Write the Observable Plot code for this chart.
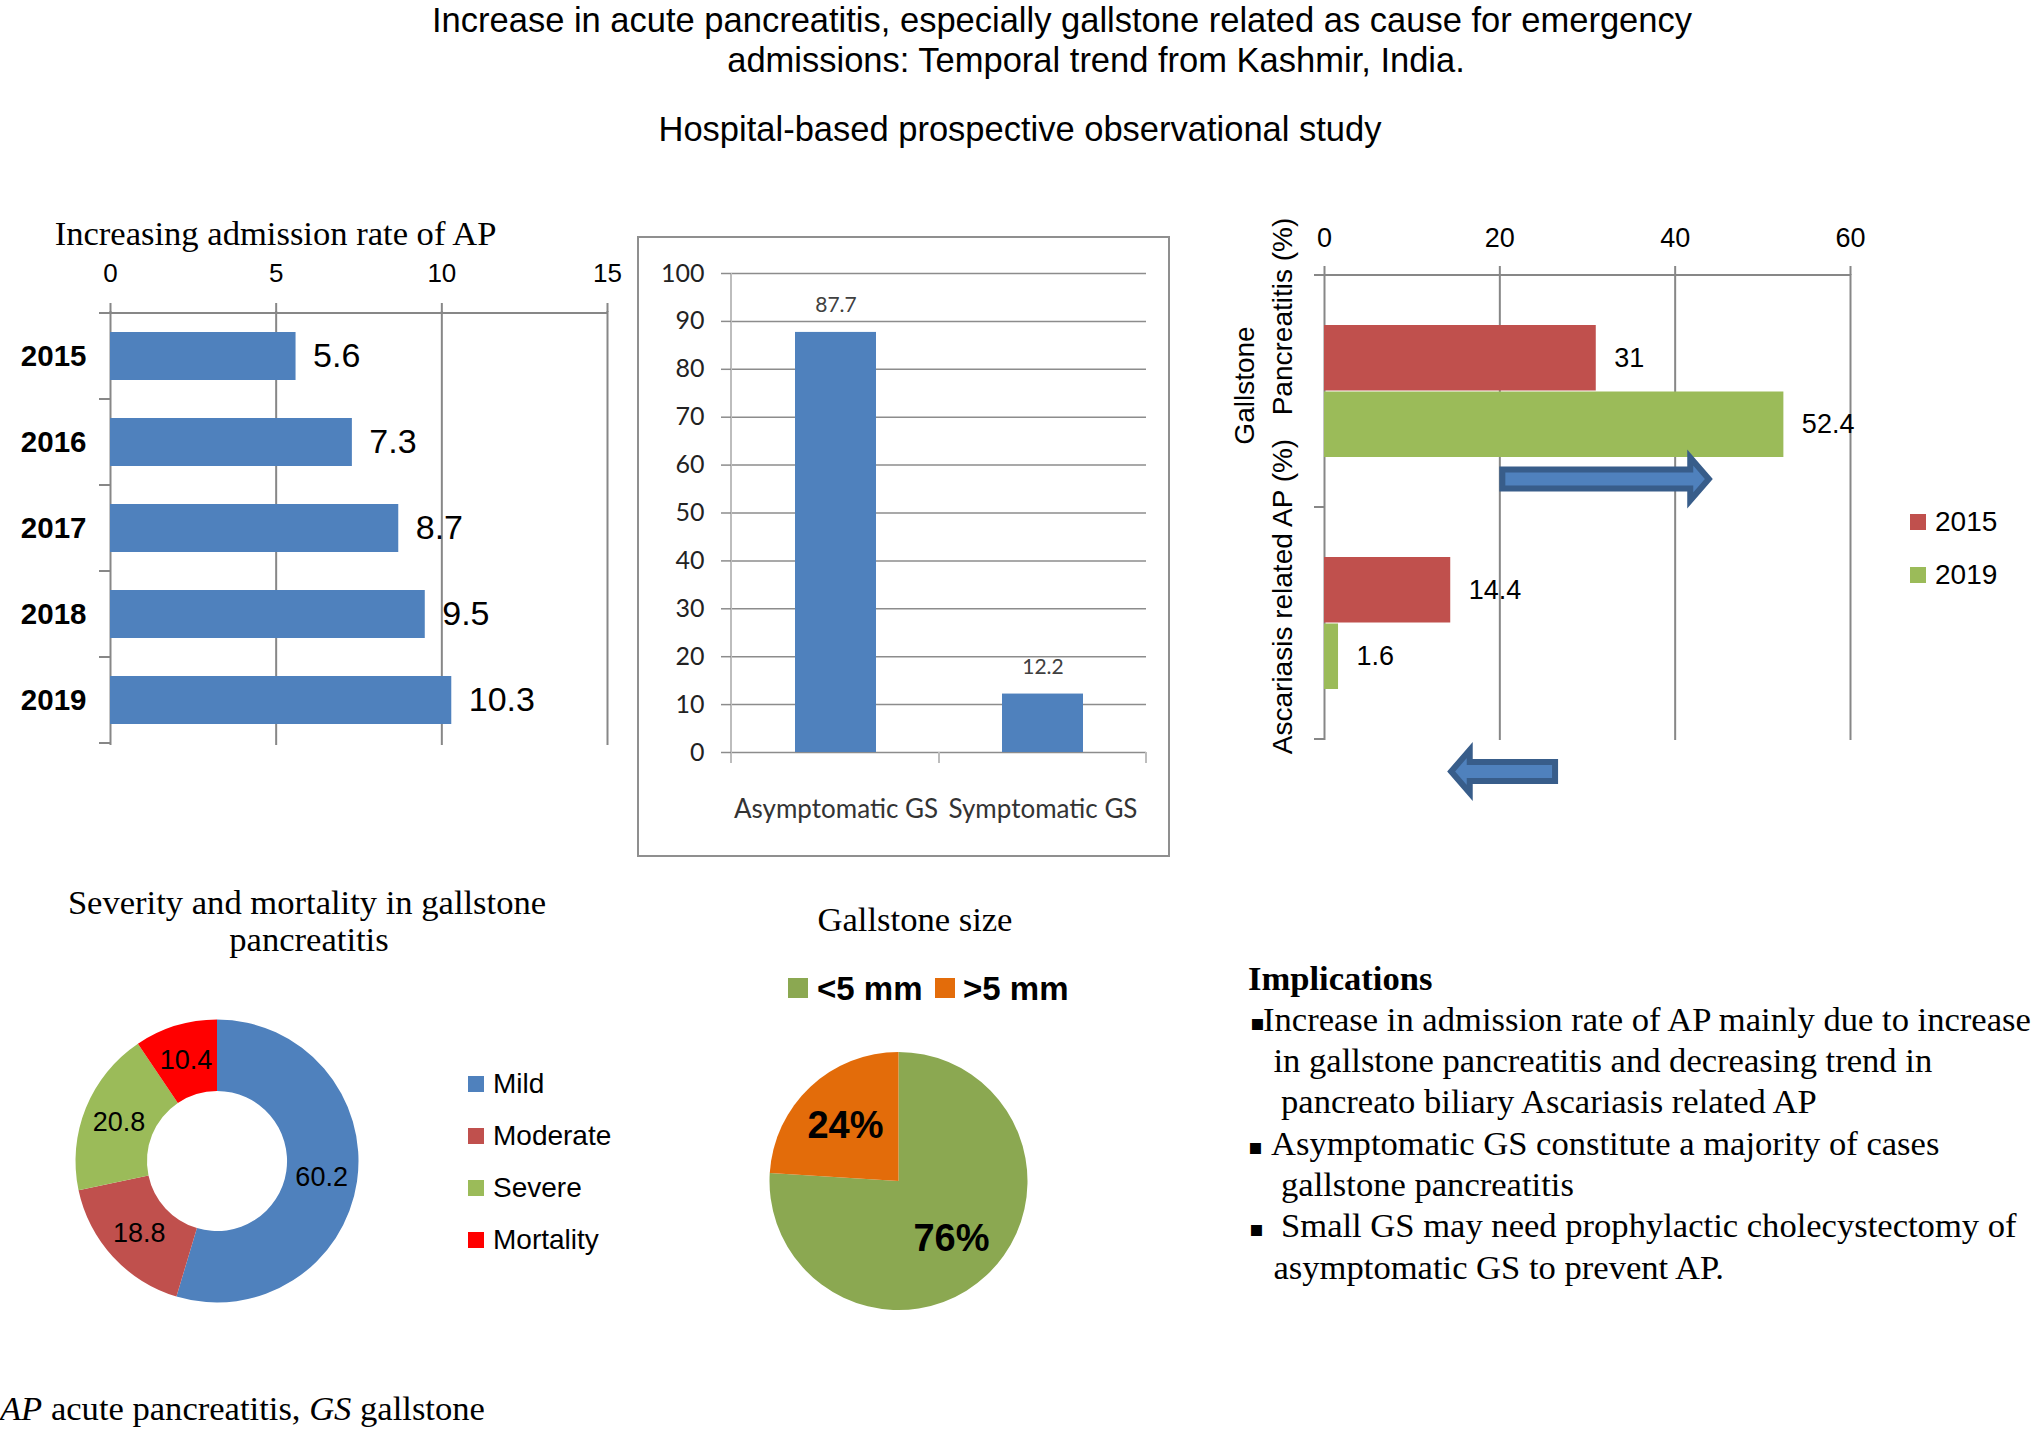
<!DOCTYPE html>
<html>
<head>
<meta charset="utf-8">
<script src="https://cdn.jsdelivr.net/npm/d3@7"></script>
<script src="https://cdn.jsdelivr.net/npm/@observablehq/plot@0.6"></script>
<style>
html, body { margin: 0; padding: 0; background: #fff; }
#root { position: relative; width: 2032px; height: 1430px; overflow: hidden; background: #fff; }
.abs { position: absolute; white-space: pre; line-height: 1; width: max-content; color: #000; }
.sw { position: absolute; }
</style>
</head>
<body>
<div id="root"></div>
<script>
// ---------------- data ----------------
const rateYears = ["2015", "2016", "2017", "2018", "2019"];
const rateValues = [5.6, 7.3, 8.7, 9.5, 10.3];
const rateTicks = [0, 5, 10, 15];

const gsTypes = ["Asymptomatic GS", "Symptomatic GS"];
const gsTypeValues = [87.7, 12.2];
const gsTypeTicks = [0, 10, 20, 30, 40, 50, 60, 70, 80, 90, 100];

const causeCategories = ["Gallstone Pancreatitis (%)", "Ascariasis related AP (%)"];
const causeYears = ["2015", "2019"];
const cause2015 = [31, 14.4];
const cause2019 = [52.4, 1.6];
const causeTicks = [0, 20, 40, 60];
const trendFrom = [20, 26.7];
const trendTo = [44.4, 14];

const severityLabels = ["Mild", "Moderate", "Severe", "Mortality"];
const severityValues = [60.2, 18.8, 20.8, 10.4];

const sizeLabels = ["<5 mm", ">5 mm"];
const sizeValues = [76, 24];

const implications = [
  "Increase in admission rate of AP mainly due to increase",
  "in gallstone pancreatitis and decreasing trend in",
  "pancreato biliary Ascariasis related AP",
  "Asymptomatic GS constitute a majority of cases",
  "gallstone pancreatitis",
  "Small GS may need prophylactic cholecystectomy of",
  "asymptomatic GS to prevent AP."
];

// ---------------- helpers ----------------
const root = document.getElementById("root");
const SANS = '"Liberation Sans", Arial, sans-serif';
const SERIF = '"Liberation Serif", "Times New Roman", serif';
const CAL = 'Lato, "Open Sans", sans-serif';
const gray = "#878787";
const SERIF_SIZE = 34.6;

function placeSvg(svg, left, top) {
  svg.style.position = "absolute";
  svg.style.left = left + "px";
  svg.style.top = top + "px";
  svg.style.maxWidth = "none";
  root.appendChild(svg);
}
function addText(content, {x, baseline, size, serif = false, bold = false, italic = false, anchor = "start", color = "#000", family, html = false}) {
  const d = document.createElement("div");
  d.className = "abs";
  if (html) d.innerHTML = content; else d.textContent = content;
  const k = serif ? 0.8375 : 0.8465;
  d.style.left = x + "px";
  d.style.top = (baseline - k * size) + "px";
  d.style.fontSize = size + "px";
  d.style.fontFamily = family || (serif ? SERIF : SANS);
  d.style.fontWeight = bold ? "bold" : "normal";
  d.style.fontStyle = italic ? "italic" : "normal";
  d.style.color = color;
  if (anchor === "middle") d.style.transform = "translateX(-50%)";
  root.appendChild(d);
  return d;
}
function addSwatch(left, top, w, h, color) {
  const s = document.createElement("div");
  s.className = "sw";
  Object.assign(s.style, {left: left + "px", top: top + "px", width: w + "px", height: h + "px", background: color});
  root.appendChild(s);
}

// Excel-like category axis: boundary ticks on the left and a top line
function bandAxisDecorY({tick = 10, stroke = gray, strokeWidth = 2} = {}) {
  return (index, scales, values, dims) => {
    const y = scales.y;
    const x0 = dims.marginLeft, x1 = dims.width - dims.marginRight;
    const pad = (y.step() - y.bandwidth()) / 2;
    const dom = y.domain();
    const bounds = dom.map(d => y(d) - pad);
    bounds.push(y(dom[dom.length - 1]) + y.bandwidth() + pad);
    const g = d3.create("svg:g").attr("stroke", stroke).attr("stroke-width", strokeWidth).attr("fill", "none");
    for (const b of bounds) g.append("line").attr("x1", x0 - tick).attr("x2", x0).attr("y1", b).attr("y2", b);
    g.append("line").attr("x1", x0 - tick).attr("x2", x1).attr("y1", bounds[0]).attr("y2", bounds[0]);
    return g.node();
  };
}

// ---------------- titles ----------------
addText("Increase in acute pancreatitis, especially gallstone related as cause for emergency", {x: 1062, baseline: 32, size: 34.5, anchor: "middle"});
addText("admissions: Temporal trend from Kashmir, India.", {x: 1096, baseline: 72, size: 34.5, anchor: "middle"});
addText("Hospital-based prospective observational study", {x: 1020, baseline: 141, size: 34.5, anchor: "middle"});

// ---------------- Panel A: admission rate ----------------
addText("Increasing admission rate of AP", {x: 275.5, baseline: 245, size: SERIF_SIZE, serif: true, anchor: "middle"});
const rateData = rateYears.map((year, i) => ({year, value: rateValues[i]}));
const plotA = Plot.plot({
  width: 640, height: 570,
  marginLeft: 110, marginRight: 33, marginTop: 113, marginBottom: 23,
  style: {fontFamily: SANS, background: "transparent", overflow: "visible"},
  x: {domain: [0, 15], axis: null},
  y: {domain: rateYears, paddingInner: 0.44, paddingOuter: 0.22, axis: null},
  marks: [
    Plot.gridX({ticks: rateTicks, stroke: gray, strokeOpacity: 1, strokeWidth: 2}),
    bandAxisDecorY({tick: 11}),
    Plot.barX(rateData, {x: "value", y: "year", fill: "#4F81BD"}),
    Plot.text(rateData, {x: "value", y: "year", text: d => String(d.value), textAnchor: "start", dx: 17, fontSize: 34, fill: "#000", fontFamily: SANS}),
    Plot.axisX({anchor: "top", ticks: rateTicks, tickSize: 9, tickPadding: 21, fontSize: 26, stroke: gray, strokeWidth: 2, fill: "#000", label: null, fontFamily: SANS}),
    Plot.axisY({anchor: "left", tickSize: 0, tickPadding: 24, fontSize: 29.5, fontWeight: "bold", fill: "#000", label: null, fontFamily: SANS})
  ]
});
placeSvg(plotA, 0, 198);

// ---------------- Panel B: asymptomatic vs symptomatic ----------------
const box = document.createElement("div");
Object.assign(box.style, {position: "absolute", left: "637px", top: "236px", width: "533px", height: "621px", boxSizing: "border-box", border: "2.5px solid #8f8f8f"});
root.appendChild(box);
const gsData = gsTypes.map((type, i) => ({type, value: gsTypeValues[i]}));
const plotB = Plot.plot({
  width: 528, height: 618,
  marginLeft: 91, marginRight: 22, marginTop: 36, marginBottom: 103,
  style: {fontFamily: CAL, background: "transparent", overflow: "visible"},
  x: {domain: gsTypes, paddingInner: 0.61, paddingOuter: 0.305, axis: null},
  y: {domain: [0, 100], axis: null},
  marks: [
    Plot.gridY({ticks: gsTypeTicks, stroke: "#8c8c8c", strokeOpacity: 1, strokeWidth: 1.5}),
    (index, scales, values, dims) => {
      const x = scales.x;
      const yb = dims.height - dims.marginBottom, yt = dims.marginTop;
      const xl = dims.marginLeft;
      const pad = (x.step() - x.bandwidth()) / 2;
      const dom = x.domain();
      const bounds = dom.map(d => x(d) - pad);
      bounds.push(x(dom[dom.length - 1]) + x.bandwidth() + pad);
      const g = d3.create("svg:g").attr("stroke", "#bdbdbd").attr("stroke-width", 2);
      g.append("line").attr("x1", xl).attr("x2", xl).attr("y1", yt).attr("y2", yb + 11);
      for (const b of bounds.slice(1)) g.append("line").attr("x1", b).attr("x2", b).attr("y1", yb).attr("y2", yb + 11);
      return g.node();
    },
    Plot.barY(gsData, {x: "type", y: "value", fill: "#4F81BD"}),
    Plot.text(gsData, {x: "type", y: "value", text: d => d.value.toFixed(1), dy: -27, fontSize: 21, fill: "#404040", fontFamily: CAL}),
    Plot.axisY({ticks: gsTypeTicks, tickSize: 10, tickPadding: 17, stroke: "#8c8c8c", strokeWidth: 1.5, fontSize: 25, fill: "#222", label: null, fontFamily: CAL}),
    Plot.axisX({tickSize: 0, tickPadding: 47, fontSize: 26, fill: "#333", label: null, fontFamily: CAL})
  ]
});
placeSvg(plotB, 640, 237);

// ---------------- Panel C: gallstone vs ascariasis ----------------
const causeColor = Plot.scale({color: {type: "ordinal", domain: causeYears, range: ["#C0504D", "#9BBB59"]}});
const causeData = causeCategories.flatMap((category, i) => [
  {category, year: "2015", value: cause2015[i]},
  {category, year: "2019", value: cause2019[i]}
]);
const c15 = causeData.filter(d => d.year === "2015");
const c19 = causeData.filter(d => d.year === "2019");
const arrowData = causeCategories.map((category, i) => ({category, from: trendFrom[i], to: trendTo[i]}));
const arrowOffsets = [22, 82.5];
const catLabelGS1 = [{category: causeCategories[0], label: "Gallstone"}];
const catLabelGS2 = [{category: causeCategories[0], label: "Pancreatitis (%)"}];
const catLabelAS = [{category: causeCategories[1], label: "Ascariasis related AP (%)"}];
const rotOpts = {y: "category", text: "label", frameAnchor: "left", textAnchor: "middle", lineAnchor: "middle", rotate: -90, fontSize: 28, fill: "#000", fontFamily: SANS};
const plotC = Plot.plot({
  width: 822, height: 620,
  marginLeft: 114, marginRight: 182, marginTop: 74, marginBottom: 80,
  style: {fontFamily: SANS, background: "transparent", overflow: "visible"},
  x: {domain: [0, 60], axis: null},
  y: {domain: causeCategories, paddingInner: 0.429, paddingOuter: 0.2146, axis: null},
  color: {domain: causeYears, range: ["#C0504D", "#9BBB59"]},
  marks: [
    Plot.gridX({ticks: causeTicks, stroke: gray, strokeOpacity: 1, strokeWidth: 2}),
    bandAxisDecorY({tick: 10}),
    Plot.barX(c15, {x: "value", y: "category", fill: "year", insetBottom: 66.5}),
    Plot.barX(c19, {x: "value", y: "category", fill: "year", insetTop: 66.5}),
    Plot.text(c15, {x: "value", y: "category", text: d => String(d.value), textAnchor: "start", dx: 18, dy: -33, fontSize: 27, fill: "#000", fontFamily: SANS}),
    Plot.text(c19, {x: "value", y: "category", text: d => String(d.value), textAnchor: "start", dx: 18, dy: 33, fontSize: 27, fill: "#000", fontFamily: SANS}),
    (index, scales) => {
      const {x, y} = scales;
      const g = d3.create("svg:g").attr("fill", "#4F81BD").attr("stroke", "#385D8A").attr("stroke-width", 6).attr("stroke-linejoin", "miter");
      arrowData.forEach((a, i) => {
        const cy = y(a.category) + y.bandwidth() + arrowOffsets[i];
        const x0 = x(a.from), x1 = x(a.to);
        const dir = Math.sign(x1 - x0);
        const xt = x0 + dir * 3, xp = x1 - dir * 4.4, xb = x1 - dir * 23;
        const sh = 9.5, hh = 21.5;
        g.append("path").attr("d", `M${xt},${cy - sh}L${xb},${cy - sh}L${xb},${cy - hh}L${xp},${cy}L${xb},${cy + hh}L${xb},${cy + sh}L${xt},${cy + sh}Z`);
      });
      return g.node();
    },
    Plot.text(catLabelGS1, {...rotOpts, dx: -79, dy: -6}),
    Plot.text(catLabelGS2, {...rotOpts, dx: -41, dy: -75}),
    Plot.text(catLabelAS, {...rotOpts, dx: -41, dy: -27}),
    Plot.axisX({anchor: "top", ticks: causeTicks, tickSize: 9, tickPadding: 19, fontSize: 27, stroke: gray, strokeWidth: 2, fill: "#000", label: null, fontFamily: SANS})
  ]
});
placeSvg(plotC, 1210, 200);
// legend C
causeYears.forEach((yr, i) => {
  const cy = 522 + i * 53;
  addSwatch(1910, cy - 8, 16, 16, causeColor.apply(yr));
  addText(yr, {x: 1935, baseline: cy + 10, size: 28});
});

// ---------------- pie helper ----------------
function pieMark(labels, values, colorScale, {margin, innerFrac = 0, labelFrac, fontSize, fontWeight = "normal", format}) {
  return (index, scales, vals, dims) => {
    const cx = dims.width / 2, cy = dims.height / 2;
    const r = Math.min(cx, cy) - margin;
    const arcs = d3.pie().sort(null).value(i => values[i])(d3.range(values.length));
    const arc = d3.arc().innerRadius(r * innerFrac).outerRadius(r);
    const labelArc = labelFrac == null ? arc : d3.arc().innerRadius(r * labelFrac).outerRadius(r * labelFrac);
    const g = d3.create("svg:g").attr("transform", `translate(${cx},${cy})`);
    g.selectAll("path").data(arcs).join("path").attr("d", arc).attr("fill", a => colorScale.apply(labels[a.data]));
    g.selectAll("text").data(arcs).join("text")
      .attr("transform", a => `translate(${labelArc.centroid(a)})`)
      .attr("text-anchor", "middle").attr("dy", "0.35em")
      .attr("font-size", fontSize).attr("font-weight", fontWeight)
      .attr("font-family", SANS).attr("fill", "#000")
      .text(a => format(values[a.data]));
    return g.node();
  };
}

// ---------------- Panel D: severity donut ----------------
addText("Severity and mortality in gallstone", {x: 307, baseline: 914, size: SERIF_SIZE, serif: true, anchor: "middle"});
addText("pancreatitis", {x: 309, baseline: 951, size: SERIF_SIZE, serif: true, anchor: "middle"});
const sevColor = Plot.scale({color: {type: "ordinal", domain: severityLabels, range: ["#4F81BD", "#C0504D", "#9BBB59", "#FF0000"]}});
const plotD = Plot.plot({
  width: 320, height: 320, margin: 0,
  style: {background: "transparent", overflow: "visible"},
  marks: [pieMark(severityLabels, severityValues, sevColor, {margin: 18.5, innerFrac: 0.495, fontSize: 27, format: v => v.toFixed(1)})]
});
placeSvg(plotD, 57, 1001);
severityLabels.forEach((lab, i) => {
  const cy = 1084 + i * 52;
  addSwatch(468, cy - 8, 16, 16, sevColor.apply(lab));
  addText(lab, {x: 493, baseline: cy + 10, size: 28});
});

// ---------------- Panel E: gallstone size pie ----------------
addText("Gallstone size", {x: 915, baseline: 931, size: SERIF_SIZE, serif: true, anchor: "middle"});
const sizeColor = Plot.scale({color: {type: "ordinal", domain: sizeLabels, range: ["#8BA851", "#E36C0A"]}});
const plotE = Plot.plot({
  width: 281, height: 280, margin: 0,
  style: {background: "transparent", overflow: "visible"},
  marks: [pieMark(sizeLabels, sizeValues, sizeColor, {margin: 11, labelFrac: 0.6, fontSize: 38, fontWeight: "bold", format: v => v + "%"})]
});
placeSvg(plotE, 758, 1041);
addSwatch(788, 978, 20, 20, sizeColor.apply(sizeLabels[0]));
addText(sizeLabels[0], {x: 817, baseline: 1000, size: 33, bold: true});
addSwatch(935, 978, 20, 20, sizeColor.apply(sizeLabels[1]));
addText(sizeLabels[1], {x: 963, baseline: 1000, size: 33, bold: true});

// ---------------- Implications ----------------
addText("Implications", {x: 1248, baseline: 990, size: SERIF_SIZE, serif: true, bold: true});
const implX = [1263, 1273.5, 1281, 1271, 1281, 1281, 1273.5];
const implBase = [1031, 1072, 1113, 1155, 1196, 1237, 1279];
implications.forEach((line, i) => addText(line, {x: implX[i], baseline: implBase[i], size: SERIF_SIZE, serif: true}));
[[1250, 1031], [1248, 1155], [1249, 1237]].forEach(([bx, bb]) => addText("▪", {x: bx, baseline: bb, size: 22, family: '"DejaVu Sans", sans-serif'}));

// ---------------- caption ----------------
addText("<i>AP</i> acute pancreatitis, <i>GS</i> gallstone", {x: 0, baseline: 1420, size: SERIF_SIZE, serif: true, html: true});
</script>
</body>
</html>
